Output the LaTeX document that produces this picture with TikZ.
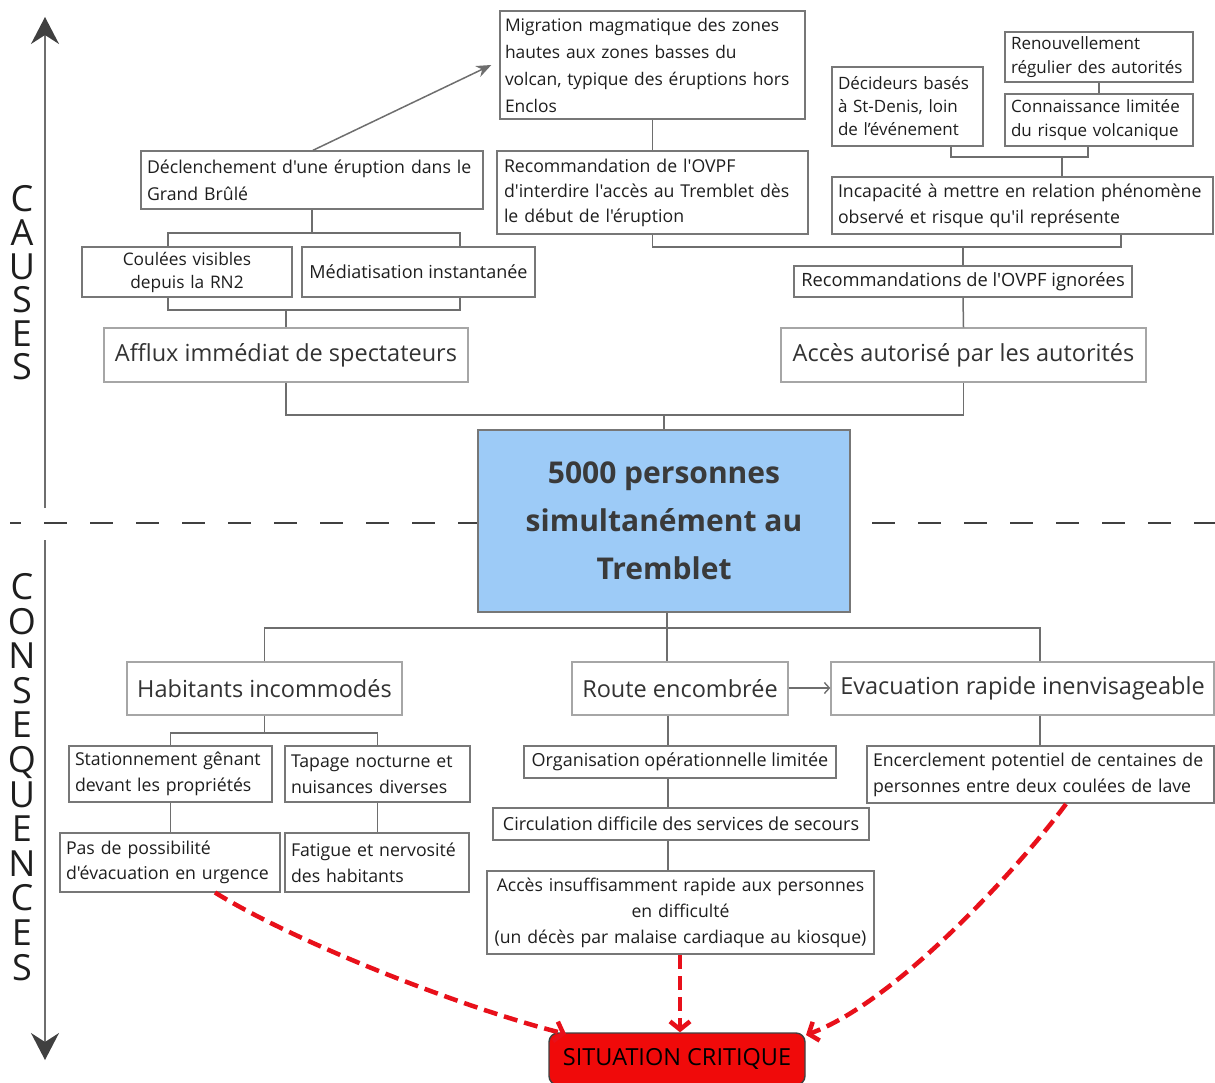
\documentclass[tikz,border=0pt]{standalone}
\usepackage{fontspec}
\setmainfont{Open Sans}[Ligatures=TeXOff]
\usetikzlibrary{arrows.meta}
\definecolor{linec}{HTML}{6E6E6E}
\definecolor{bordc}{HTML}{777777}
\definecolor{lbordc}{HTML}{A6A6A6}
\definecolor{txtc}{HTML}{1E1E1E}
\definecolor{bigtxt}{HTML}{333333}
\definecolor{bluefill}{HTML}{9DCBF7}
\definecolor{maintxt}{HTML}{3A3A3A}
\definecolor{critred}{HTML}{F00A0A}
\definecolor{arrred}{HTML}{E8101A}
\definecolor{axisc}{HTML}{404040}
\begin{document}
\begin{tikzpicture}[x=1pt,y=-1pt,
  bx/.style={draw=bordc, line width=1.4pt, fill=white, inner sep=0pt, text=txtc,
    font=\fontsize{17.7}{26}\selectfont},
  sb/.style={bx, font=\fontsize{18}{22}\selectfont},
  lb/.style={bx, align=left, inner xsep=8pt},
  cb/.style={bx, align=center, inner xsep=8pt},
  big/.style={draw=lbordc, line width=1.4pt, fill=white, inner sep=0pt, text=bigtxt,
    font=\fontsize{23.5}{28}\selectfont},
  conn/.style={draw=linec, line width=1.5pt},
  redarr/.style={draw=arrred, line width=4.5pt, dash pattern=on 14pt off 7pt,
    -{Straight Barb[length=8pt,width=20pt]}},
  axislbl/.style={font=\fontsize{36}{34.6}\selectfont, align=center, text=txtc, inner sep=0pt}
]
\useasboundingbox (0,0) rectangle (1215,1083);

% axis
\coordinate (axtop) at (45,17);
\coordinate (axtopend) at (45,508);
\coordinate (axbot) at (45,1060);
\coordinate (axbotstart) at (45,540);
\draw[draw=linec, line width=1.6pt, -{Stealth[length=27pt,width=28pt,inset=9pt,color=axisc,fill=axisc]}] (axtopend) -- (axtop);
\draw[draw=linec, line width=1.6pt, -{Stealth[length=27pt,width=28pt,inset=9pt,color=axisc,fill=axisc]}] (axbotstart) -- (axbot);
\coordinate (dl) at (10,523);
\coordinate (dr) at (1215,523);
\draw[draw=axisc, line width=1.6pt, dash pattern=on 23pt off 23pt, dash phase=12pt] (dl) -- (dr);

\node[axislbl, font=\fontsize{36}{33.6}\selectfont] (causes) at (22,283) {C\\A\\U\\S\\E\\S};
\node[axislbl] (conseq) at (22,777) {C\\O\\N\\S\\E\\Q\\U\\E\\N\\C\\E\\S};

% ---------- causes, right branch
\node[lb, text width=295pt, inner xsep=5pt, minimum height=108pt, font=\fontsize{17.4}{27}\selectfont] (mig) at (652.5,65)
  {Migration magmatique des zones\\hautes aux zones basses du\\volcan, typique des éruptions hors\\Enclos};
\node[lb, text width=297pt, inner xsep=7pt, minimum height=83pt, font=\fontsize{17.7}{25}\selectfont] (rec) at (652.5,192.5)
  {Recommandation de l'OVPF\\d'interdire l'accès au Tremblet dès\\le début de l'éruption};
\node[lb, text width=139pt, inner xsep=6pt, minimum height=79pt, font=\fontsize{17}{23}\selectfont] (dec) at (907.5,106.5)
  {Décideurs basés\\à St-Denis, loin\\de l’événement};
\node[lb, text width=176pt, inner xsep=6pt, minimum height=50pt, font=\fontsize{17}{24}\selectfont] (ren) at (1099,57)
  {Renouvellement\\régulier des autorités};
\node[lb, text width=176pt, inner xsep=6pt, minimum height=52pt, font=\fontsize{17}{24}\selectfont] (con) at (1099,120)
  {Connaissance limitée\\du risque volcanique};
\node[lb, text width=369pt, inner xsep=6pt, minimum height=57pt] (inc) at (1022.5,205.5)
  {Incapacité à mettre en relation phénomène\\observé et risque qu'il représente};
\node[sb, minimum width=338pt, minimum height=31pt, font=\fontsize{18.3}{22}\selectfont] (ign) at (963,281.5)
  {Recommandations de l'OVPF ignorées};
\node[big, minimum width=365pt, minimum height=54pt] (acc) at (963.5,355)
  {Accès autorisé par les autorités};

% ---------- causes, left branch
\node[lb, text width=330pt, inner xsep=6pt, minimum height=58pt, font=\fontsize{17.7}{27}\selectfont] (dcl) at (312,180)
  {Déclenchement d'une éruption dans le\\Grand Brûlé};
\node[cb, text width=194pt, minimum height=50pt, font=\fontsize{17.3}{23}\selectfont] (cou) at (187,272)
  {Coulées visibles\\depuis la RN2};
\node[sb, minimum width=233pt, minimum height=50pt] (med) at (418.5,272)
  {Médiatisation instantanée};
\node[big, minimum width=364pt, minimum height=54pt] (aff) at (286,355)
  {Afflux immédiat de spectateurs};

% ---------- central
\node[draw=bordc, line width=1.4pt, fill=bluefill, inner sep=0pt, minimum width=372pt, minimum height=182pt,
  align=center, text=maintxt, font=\fontsize{30}{48}\selectfont\bfseries] (main) at (664,521)
  {5000 personnes\\simultanément au\\Tremblet};

% ---------- consequences
\node[big, minimum width=275pt, minimum height=53pt] (hab) at (264.5,688.5) {Habitants incommodés};
\node[big, minimum width=216pt, minimum height=53pt] (rou) at (680,688.5) {Route encombrée};
\node[big, minimum width=383pt, minimum height=53pt] (eva) at (1022.5,688.5) {Evacuation rapide inenvisageable};

\node[lb, text width=191pt, inner xsep=6pt, minimum height=56pt] (sta) at (170.5,774)
  {Stationnement gênant\\devant les propriétés};
\node[lb, text width=173pt, inner xsep=6pt, minimum height=56pt] (tap) at (377.5,774)
  {Tapage nocturne et\\nuisances diverses};
\node[lb, text width=208pt, inner xsep=6pt, minimum height=59pt, font=\fontsize{17.7}{25}\selectfont] (pas) at (170,862.5)
  {Pas de possibilité\\d'évacuation en urgence};
\node[lb, text width=172pt, inner xsep=6pt, minimum height=59pt] (fat) at (377,862.5)
  {Fatigue et nervosité\\des habitants};

\node[sb, minimum width=312pt, minimum height=32pt] (org) at (680,762) {Organisation opérationnelle limitée};
\node[sb, minimum width=376pt, minimum height=32pt] (cir) at (681,824) {Circulation difficile des services de secours};
\node[cb, text width=375pt, inner xsep=6pt, minimum height=83pt, font=\fontsize{17.6}{26}\selectfont] (acs) at (680.5,912.5)
  {Accès insuffisamment rapide aux personnes\\en difficulté\\(un décès par malaise cardiaque au kiosque)};
\node[lb, text width=335pt, inner xsep=6pt, minimum height=57pt] (enc) at (1040.5,774.5)
  {Encerclement potentiel de centaines de\\personnes entre deux coulées de lave};

\node[draw=axisc, line width=1.4pt, fill=critred, rounded corners=9pt, inner sep=0pt,
  minimum width=256pt, minimum height=52pt, text=black, font=\fontsize{23.5}{26}\selectfont] (sit) at (677,1059)
  {SITUATION CRITIQUE};

% ---------- connectors (causes)
\draw[conn, -{Stealth[length=15pt,width=12pt]}, linec] ([xshift=1pt]dcl.north) -- ([xshift=-8pt]mig.west);
\draw[conn] (mig.south) -- (rec.north);

\coordinate (j1) at (312,233);
\coordinate (j1l) at (168,233);
\coordinate (j1r) at (460,233);
\draw[conn] (dcl.south) -- (j1);
\draw[conn] (j1l |- cou.north) -- (j1l) -- (j1r) -- (j1r |- med.north);
\coordinate (j2l) at (168,310);
\coordinate (j2r) at (460,310);
\coordinate (j2) at (286,310);
\draw[conn] (j2l |- cou.south) -- (j2l) -- (j2r) -- (j2r |- med.south);
\draw[conn] (j2) -- (aff.north);

\coordinate (j3l) at (951,157);
\coordinate (j3r) at (1088,157);
\coordinate (j3) at (1062,157);
\draw[conn] (j3l |- dec.south) -- (j3l) -- (j3r) -- (j3r |- con.south);
\draw[conn] (j3) -- (j3 |- inc.north);
\draw[conn] (ren.south) -- (con.north);

\coordinate (j4l) at (652.5,247);
\coordinate (j4r) at (1121,247);
\coordinate (j4) at (963,247);
\draw[conn] (rec.south) -- (j4l) -- (j4r) -- (j4r |- inc.south);
\draw[conn] (j4) -- (ign.north);
\draw[conn] (ign.south) -- (acc.north);

\coordinate (j5l) at (286,415);
\coordinate (j5r) at (963.5,415);
\coordinate (j5) at (664,415);
\draw[conn] (aff.south) -- (j5l) -- (j5r) -- (acc.south);
\draw[conn] (j5) -- (main.north);

% ---------- connectors (consequences)
\coordinate (k1l) at (264.5,628);
\coordinate (k1m) at (667,628);
\coordinate (k1r) at (1040,628);
\draw[conn] (k1m |- main.south) -- (k1m);
\draw[conn] (hab.north) -- (k1l) -- (k1r) -- (k1r |- eva.north);
\draw[conn] (k1m) -- (k1m |- rou.north);
\draw[draw=linec, line width=1.4pt, -{Straight Barb[length=5pt,width=11pt]}] (rou.east |- 0,688) -- (eva.west |- 0,688);

\coordinate (k2) at (264.5,733);
\coordinate (k2l) at (170.5,733);
\coordinate (k2r) at (377.5,733);
\draw[conn] (hab.south) -- (k2);
\draw[conn] (sta.north) -- (k2l) -- (k2r) -- (tap.north);
\draw[conn] (sta.south) -- (sta.south |- pas.north);
\draw[conn] (tap.south) -- (tap.south |- fat.north);

\coordinate (k3) at (668,700);
\draw[conn] (k3 |- rou.south) -- (k3 |- org.north);
\draw[conn] (k3 |- org.south) -- (k3 |- cir.north);
\draw[conn] (k3 |- cir.south) -- (k3 |- acs.north);
\draw[conn] (k1r |- eva.south) -- (k1r |- enc.north);

% ---------- red dashed arrows
\coordinate (r1) at (215,892.5);
\coordinate (r1e) at (566,1034);
\draw[redarr] (r1) .. controls (300,945) and (470,1010) .. (r1e);
\coordinate (r2) at (680,955);
\draw[redarr] (r2) -- (r2 |- sit.north);
\coordinate (r3) at (1066,804);
\coordinate (r3e) at (806,1035);
\draw[redarr] (r3) .. controls (1025,860) and (900,1000) .. (r3e);
\end{tikzpicture}
\end{document}
